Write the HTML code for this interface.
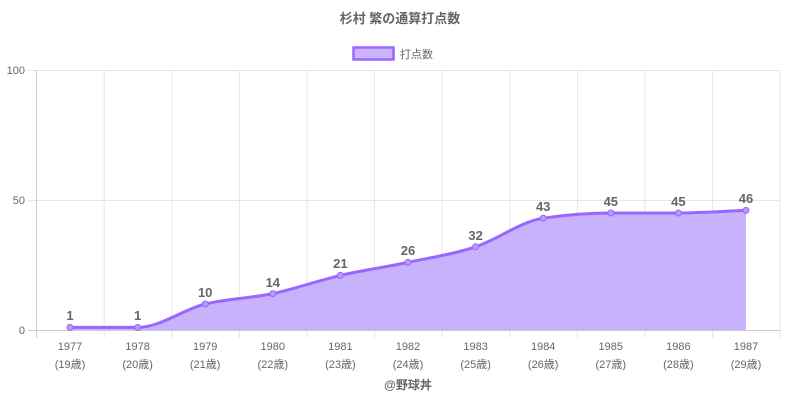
<!DOCTYPE html>
<html><head><meta charset="utf-8"><style>
html,body{margin:0;padding:0;background:#fff;}
svg{display:block;font-family:"Liberation Sans","Noto Sans CJK JP",sans-serif;}
</style></head><body>
<svg width="800" height="400" viewBox="0 0 800 400">
<text x="400" y="23" text-anchor="middle" font-size="13" font-weight="bold" fill="#666">杉村 繁の通算打点数</text>
<rect x="353.5" y="47.5" width="40" height="12" fill="#cbb3fd" stroke="#9966ff" stroke-width="2.5"/>
<text x="400" y="58" font-size="11" fill="#666">打点数</text>
<g stroke="#e6e6e6" stroke-width="1">
<line x1="28" y1="70.5" x2="780" y2="70.5"/>
<line x1="28" y1="200.5" x2="780" y2="200.5"/>
<line x1="104.2" y1="70" x2="104.2" y2="338"/><line x1="171.8" y1="70" x2="171.8" y2="338"/>
<line x1="239.4" y1="70" x2="239.4" y2="338"/><line x1="307" y1="70" x2="307" y2="338"/>
<line x1="374.6" y1="70" x2="374.6" y2="338"/><line x1="442.2" y1="70" x2="442.2" y2="338"/>
<line x1="509.8" y1="70" x2="509.8" y2="338"/><line x1="577.4" y1="70" x2="577.4" y2="338"/>
<line x1="645" y1="70" x2="645" y2="338"/><line x1="712.6" y1="70" x2="712.6" y2="338"/>
<line x1="780" y1="70" x2="780" y2="338"/>
</g>
<line x1="36.5" y1="70" x2="36.5" y2="338" stroke="#ccc"/>
<line x1="28" y1="330.5" x2="780" y2="330.5" stroke="#ccc"/>
<g font-size="11" fill="#666" text-anchor="end">
<text x="25" y="74">100</text><text x="25" y="204">50</text><text x="25" y="334">0</text>
</g>
<path d="M70,327.4 C92.5,327.4 115.1,327.4 137.6,327.4 C160.1,327.4 182.7,309.6 205.2,304 C227.7,298.4 250.3,298.4 272.8,293.6 C295.3,288.8 317.9,280.6 340.4,275.4 C362.9,270.2 385.5,267.2 408,262.4 C430.5,257.6 453.1,254.2 475.6,246.8 C498.1,239.4 520.7,221.5 543.2,218.2 C565.7,214.9 588.3,213 610.8,213 L678.4,213 C700.9,213 723.5,211.3 746,210.4 L746,330 L70,330 Z" fill="#c9b2fc" stroke="none"/>
<path d="M70,327.4 C92.5,327.4 115.1,327.4 137.6,327.4 C160.1,327.4 182.7,309.6 205.2,304 C227.7,298.4 250.3,298.4 272.8,293.6 C295.3,288.8 317.9,280.6 340.4,275.4 C362.9,270.2 385.5,267.2 408,262.4 C430.5,257.6 453.1,254.2 475.6,246.8 C498.1,239.4 520.7,221.5 543.2,218.2 C565.7,214.9 588.3,213 610.8,213 L678.4,213 C700.9,213 723.5,211.3 746,210.4" fill="none" stroke="#9966ff" stroke-width="3"/>
<g fill="#b69afc" stroke="#9966ff" stroke-width="1">
<circle cx="70" cy="327.4" r="3"/><circle cx="137.6" cy="327.4" r="3"/><circle cx="205.2" cy="304" r="3"/>
<circle cx="272.8" cy="293.6" r="3"/><circle cx="340.4" cy="275.4" r="3"/><circle cx="408" cy="262.4" r="3"/>
<circle cx="475.6" cy="246.8" r="3"/><circle cx="543.2" cy="218.2" r="3"/><circle cx="610.8" cy="213" r="3"/>
<circle cx="678.4" cy="213" r="3"/><circle cx="746" cy="210.4" r="3"/>
</g>
<g font-size="13" font-weight="bold" fill="#666" text-anchor="middle">
<text x="70" y="320">1</text><text x="137.6" y="320">1</text><text x="205.2" y="297">10</text>
<text x="272.8" y="287">14</text><text x="340.4" y="268">21</text><text x="408" y="255">26</text>
<text x="475.6" y="240">32</text><text x="543.2" y="211">43</text><text x="610.8" y="206">45</text>
<text x="678.4" y="206">45</text><text x="746" y="203">46</text>
</g>
<g font-size="11" fill="#666" text-anchor="middle">
<text x="70" y="350">1977</text><text x="70" y="368">(19歳)</text>
<text x="137.6" y="350">1978</text><text x="137.6" y="368">(20歳)</text>
<text x="205.2" y="350">1979</text><text x="205.2" y="368">(21歳)</text>
<text x="272.8" y="350">1980</text><text x="272.8" y="368">(22歳)</text>
<text x="340.4" y="350">1981</text><text x="340.4" y="368">(23歳)</text>
<text x="408" y="350">1982</text><text x="408" y="368">(24歳)</text>
<text x="475.6" y="350">1983</text><text x="475.6" y="368">(25歳)</text>
<text x="543.2" y="350">1984</text><text x="543.2" y="368">(26歳)</text>
<text x="610.8" y="350">1985</text><text x="610.8" y="368">(27歳)</text>
<text x="678.4" y="350">1986</text><text x="678.4" y="368">(28歳)</text>
<text x="746" y="350">1987</text><text x="746" y="368">(29歳)</text>
</g>
<text x="408" y="389" text-anchor="middle" font-size="12" font-weight="bold" fill="#666">@野球丼</text>
</svg>
</body></html>
